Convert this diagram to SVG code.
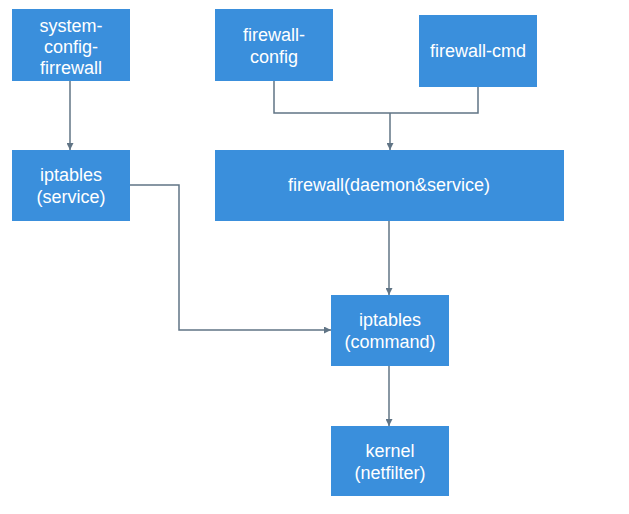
<svg xmlns="http://www.w3.org/2000/svg" width="629" height="514" viewBox="0 0 629 514">
<style>
.box{fill:#3a8fdc}
.t{font-family:"Liberation Sans",Arial,sans-serif;font-size:18px;fill:#ffffff;text-anchor:middle}
.c{fill:none;stroke:#607485;stroke-width:1.5}
</style>
<defs>
<marker id="ah" viewBox="0 0 10 10" refX="10" refY="5" markerWidth="7" markerHeight="7" orient="auto" markerUnits="userSpaceOnUse">
<path d="M0,0 L10,5 L0,10 z" fill="#607485"/>
</marker>
</defs>
<rect width="629" height="514" fill="#ffffff"/>
<g id="connectors">
<path class="c" d="M70,81 V150" marker-end="url(#ah)"/>
<path class="c" d="M274,81 V113 H478 V87"/>
<path class="c" d="M390,113 V150" marker-end="url(#ah)"/>
<path class="c" d="M389,221 V295" marker-end="url(#ah)"/>
<path class="c" d="M130,185 H179 V330 H331" marker-end="url(#ah)"/>
<path class="c" d="M389,366 V426" marker-end="url(#ah)"/>
</g>
<g id="system-config-firewall">
<rect class="box" x="12" y="9" width="118" height="72"/>
<text class="t" x="71" y="32">system-</text>
<text class="t" x="71" y="53">config-</text>
<text class="t" x="71" y="74">firrewall</text>
</g>
<g id="iptables-service">
<rect class="box" x="12" y="150" width="118" height="71"/>
<text class="t" x="71" y="181">iptables</text>
<text class="t" x="71" y="203">(service)</text>
</g>
<g id="firewall-config">
<rect class="box" x="215" y="9" width="118" height="72"/>
<text class="t" x="274" y="41">firewall-</text>
<text class="t" x="274" y="63">config</text>
</g>
<g id="firewall-cmd">
<rect class="box" x="419" y="15" width="118" height="72"/>
<text class="t" x="478" y="57">firewall-cmd</text>
</g>
<g id="firewall-daemon">
<rect class="box" x="215" y="150" width="349" height="71"/>
<text class="t" x="389" y="191">firewall(daemon&amp;service)</text>
</g>
<g id="iptables-command">
<rect class="box" x="331" y="295" width="118" height="71"/>
<text class="t" x="390" y="326">iptables</text>
<text class="t" x="390" y="348">(command)</text>
</g>
<g id="kernel">
<rect class="box" x="331" y="426" width="118" height="70"/>
<text class="t" x="390" y="457">kernel</text>
<text class="t" x="390" y="479">(netfilter)</text>
</g>
</svg>
